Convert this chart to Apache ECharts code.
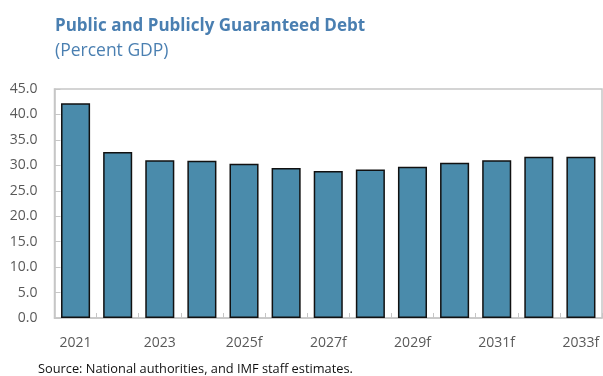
<!DOCTYPE html>
<html>
<head>
<meta charset="utf-8">
<script src="https://cdn.jsdelivr.net/npm/echarts@6/dist/echarts.min.js"></script>
<style>
  html, body { margin: 0; padding: 0; background: #ffffff; }
  #chart { width: 603px; height: 376px; }
</style>
</head>
<body>
<div id="chart"></div>
<script>
// Public and publicly guaranteed debt, percent of GDP (f = forecast)
const categories = ['2021', '2022', '2023', '2024', '2025f', '2026f', '2027f',
                    '2028f', '2029f', '2030f', '2031f', '2032f', '2033f'];
const debtValues = [42.2, 32.6, 31.0, 30.9, 30.3, 29.5, 28.9,
                    29.2, 29.7, 30.5, 31.0, 31.7, 31.7];
const yTicks = { min: 0, max: 45, interval: 5 };

const chart = echarts.init(document.getElementById('chart'), null, { renderer: 'canvas' });

const font = '"Open Sans", "Noto Sans", sans-serif';
const gridColor = '#c6c6c6';

chart.setOption({
  animation: false,
  title: {
    text: 'Public and Publicly Guaranteed Debt',
    subtext: '(Percent GDP)',
    left: 50,
    top: 13,
    itemGap: 7,
    textStyle: { fontFamily: font, fontSize: 17, fontWeight: 'bold', color: '#4a7fb1' },
    subtextStyle: { fontFamily: font, fontSize: 17.5, fontWeight: 'normal', color: '#4a7fb1' }
  },
  grid: {
    left: 54.5, right: 1, top: 89, bottom: 58,
    show: true, borderColor: gridColor, borderWidth: 1.5,
    containLabel: false
  },
  xAxis: {
    type: 'category',
    data: categories,
    boundaryGap: true,
    axisLine: { show: true, lineStyle: { color: gridColor, width: 1.5 } },
    axisTick: { show: true, inside: true, length: 5, alignWithLabel: false, interval: 0,
                lineStyle: { color: gridColor } },
    axisLabel: { interval: 1, margin: 18, fontFamily: font, fontSize: 14, color: '#595959' }
  },
  yAxis: {
    type: 'value',
    min: yTicks.min, max: yTicks.max, interval: yTicks.interval,
    axisLine: { show: true, lineStyle: { color: gridColor, width: 1.5 } },
    axisTick: { show: true, inside: true, length: 6, lineStyle: { color: gridColor } },
    splitLine: { show: false },
    axisLabel: {
      margin: 17, fontFamily: font, fontSize: 14, color: '#595959',
      formatter: v => v.toFixed(1)
    }
  },
  series: [{
    type: 'bar',
    data: debtValues,
    barWidth: '69%',
    itemStyle: { color: '#4a8bab', borderColor: '#111111', borderWidth: 1.5 }
  }],
  graphic: [{
    type: 'text',
    left: 38, top: 363,
    style: {
      text: 'Source: National authorities, and IMF staff estimates.',
      font: '12.8px ' + font,
      fill: '#111111'
    }
  }]
});
</script>
</body>
</html>
